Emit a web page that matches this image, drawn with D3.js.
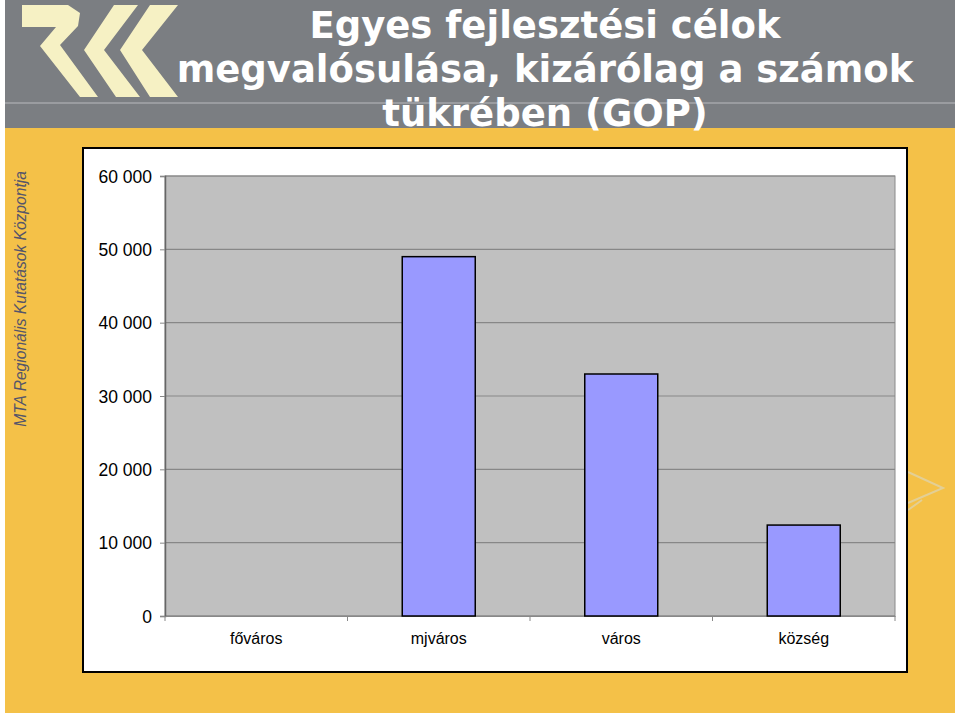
<!DOCTYPE html>
<html><head><meta charset="utf-8">
<script src="https://cdn.jsdelivr.net/npm/d3@7"></script>
<style>html,body{margin:0;padding:0;background:#fff;}svg{display:block;}</style>
</head><body>
<svg id="c" width="960" height="716"></svg>
<script>
const categories = ["főváros", "mjváros", "város", "község"];
const values = [0, 49000, 33000, 12400];
const yTicks = [0, 10000, 20000, 30000, 40000, 50000, 60000];
const titleLines = ["Egyes fejlesztési célok", "megvalósulása, kizárólag a számok", "tükrében (GOP)"];
const sideText = "MTA Regionális Kutatások Központja";

const svg = d3.select("#c");
// slide background
svg.append("rect").attr("x", 5).attr("y", 0).attr("width", 950).attr("height", 713).attr("fill", "#f4c148");
svg.append("rect").attr("x", 5).attr("y", 0).attr("width", 950).attr("height", 128).attr("fill", "#7b7e82");
svg.append("rect").attr("x", 5).attr("y", 102).attr("width", 950).attr("height", 2).attr("fill", "#9a9ca0");

// logo
const logo = svg.append("g").attr("fill", "#f6f1c4");
logo.append("polygon").attr("points", "22,5 68,5 80,13 78,26 60,45 98,97 80,97 40,46 56,27 22,27");
logo.append("polygon").attr("points", "114,5 138,5 104,50 140,97 116,97 84,50");
logo.append("polygon").attr("points", "150,5 178,5 142,50 178,97 150,97 120,50");

// title
const title = svg.append("text").attr("text-anchor", "middle").attr("fill", "#ffffff")
  .attr("font-family", "DejaVu Sans, Verdana, sans-serif").attr("font-weight", "bold").attr("font-size", 37);
titleLines.forEach((t, i) => title.append("tspan").attr("x", 545).attr("y", 38 + i * 44).text(t));

// side text
svg.append("text").attr("transform", "translate(26,299) rotate(-90)").attr("text-anchor", "middle")
  .attr("font-family", "Liberation Sans, Arial, sans-serif").attr("font-style", "italic").attr("font-size", 15.6)
  .attr("fill", "#55556a").text(sideText);

// faint arrow right
svg.append("path").attr("d", "M908,472 L943,488 L908,503 M908,510 L922,500").attr("fill", "none")
  .attr("stroke", "#e3cf95").attr("stroke-width", 2);

// chart box
svg.append("rect").attr("x", 83).attr("y", 148).attr("width", 824).attr("height", 524)
  .attr("fill", "#ffffff").attr("stroke", "#000").attr("stroke-width", 2);

const m = {l: 165, r: 895, t: 176, b: 616};
const x = d3.scaleBand().domain(categories).range([m.l, m.r]).paddingInner(0.6).paddingOuter(0.3);
const y = d3.scaleLinear().domain([0, 60000]).range([m.b, m.t]);

svg.append("rect").attr("x", m.l).attr("y", m.t).attr("width", m.r - m.l).attr("height", m.b - m.t)
  .attr("fill", "#c0c0c0").attr("stroke", "#8a8a8a").attr("stroke-width", 1);

// grid
svg.append("g").selectAll("line").data(yTicks).join("line")
  .attr("x1", m.l).attr("x2", m.r).attr("y1", d => y(d)).attr("y2", d => y(d))
  .attr("stroke", "#878787").attr("stroke-width", 1.2);

// y axis
const fmt = d => d === 0 ? "0" : d3.format(",")(d).replace(/,/g, " ");
const ya = svg.append("g").attr("transform", `translate(${m.l},0)`)
  .call(d3.axisLeft(y).tickValues(yTicks).tickFormat(fmt).tickSize(5).tickPadding(8));
ya.attr("font-size", null).attr("font-family", null);
ya.select(".domain").attr("stroke", "#666").attr("stroke-width", 1.5);
ya.selectAll(".tick line").attr("stroke", "#888");
ya.selectAll("text").style("font-family", "Liberation Sans, Arial, sans-serif").style("font-size", "17.5px").attr("fill", "#000").attr("dy", "0.35em");

// x axis
const xa = svg.append("g").attr("transform", `translate(0,${m.b})`)
  .call(d3.axisBottom(x).tickSize(0).tickPadding(17));
xa.attr("font-size", null).attr("font-family", null);
xa.select(".domain").attr("stroke", "#888").attr("stroke-width", 1.2);
xa.selectAll("text").style("font-family", "Liberation Sans, Arial, sans-serif").style("font-size", "16px").attr("fill", "#000");
const step = x.step();
const bounds = d3.range(categories.length + 1).map(i => m.l + i * step);
svg.append("g").selectAll("line").data(bounds).join("line")
  .attr("x1", d => d).attr("x2", d => d).attr("y1", m.b).attr("y2", m.b + 5).attr("stroke", "#888");

// bars
const barData = categories.map((c, i) => ({c, v: values[i]})).filter(d => d.v > 0);
svg.append("g").selectAll("rect").data(barData).join("rect")
  .attr("x", d => x(d.c)).attr("y", d => y(d.v)).attr("width", x.bandwidth()).attr("height", d => y(0) - y(d.v))
  .attr("fill", "#9999ff").attr("stroke", "#000").attr("stroke-width", 1.5);
</script>
</body></html>
